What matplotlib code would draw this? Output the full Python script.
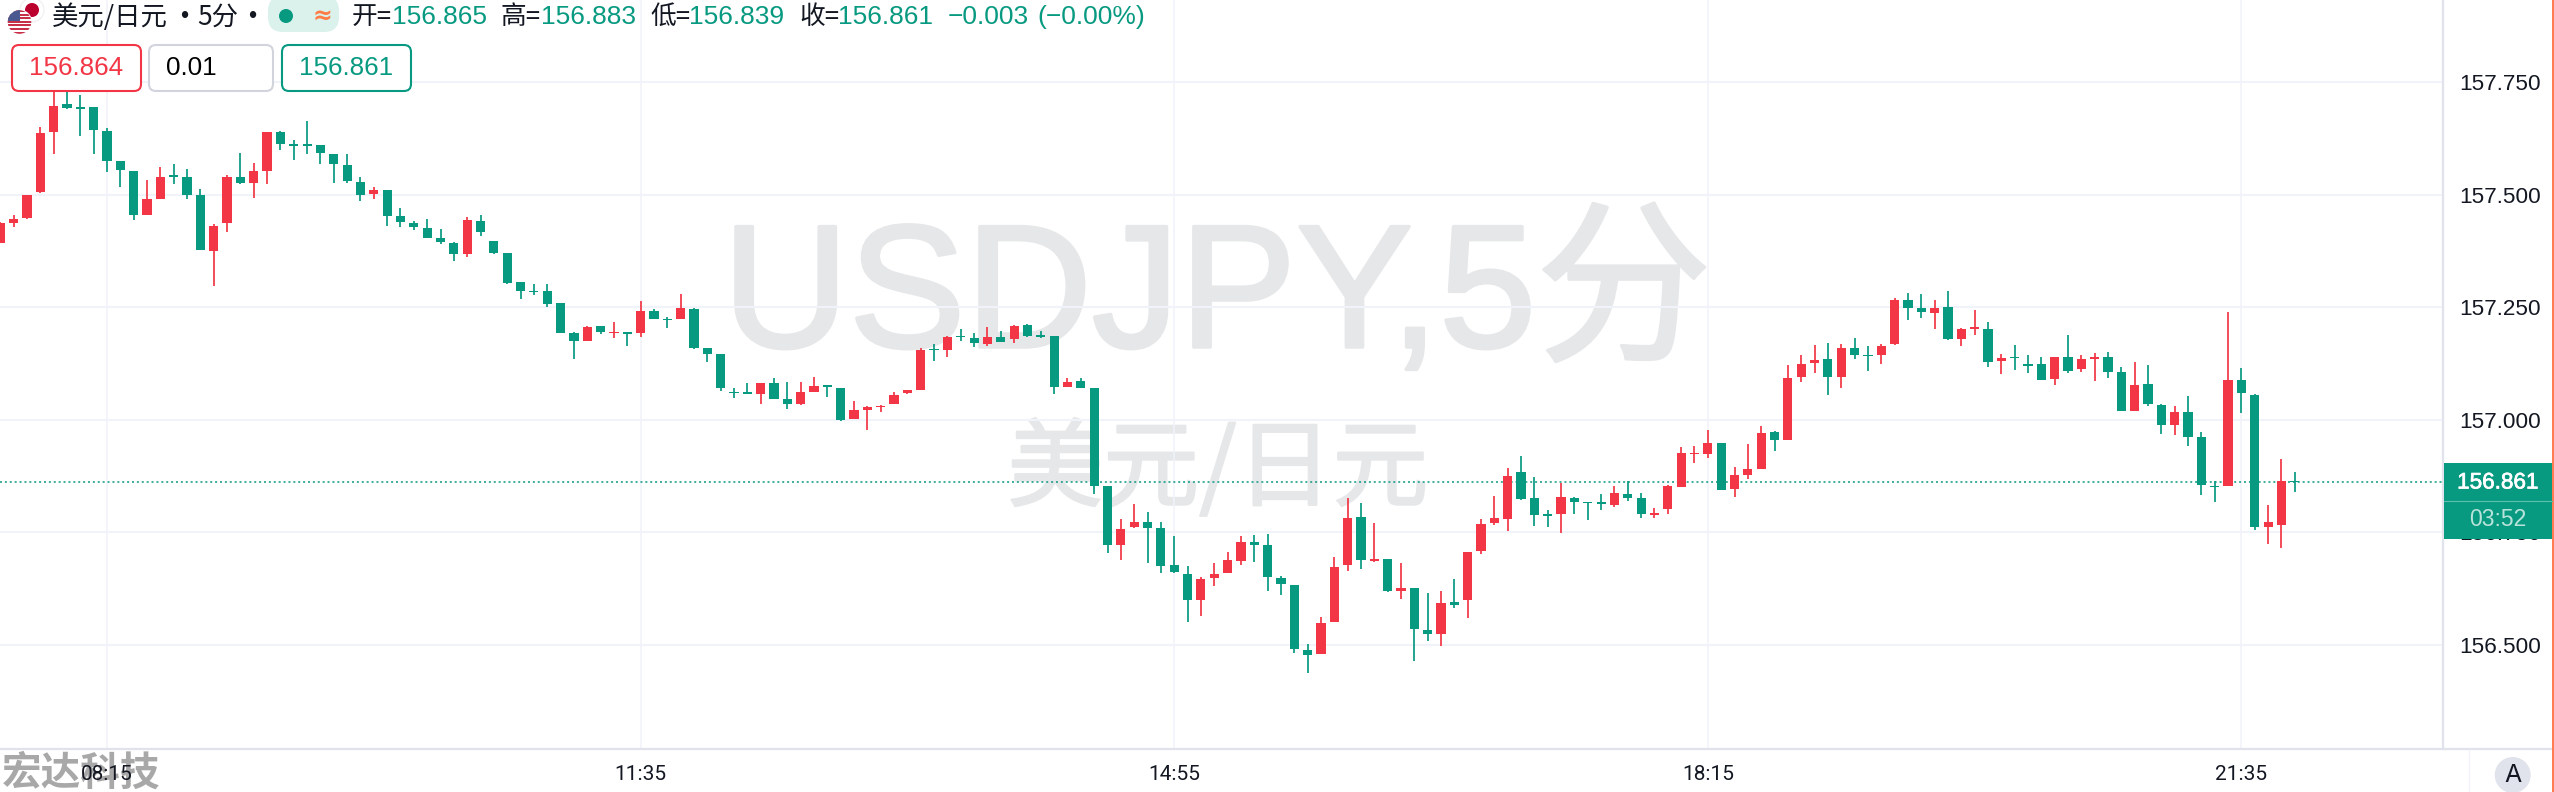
import numpy as np
import matplotlib
matplotlib.use("Agg")
import matplotlib.pyplot as plt
import matplotlib.patheffects as pe
from matplotlib.patches import Circle, FancyBboxPatch, Rectangle

# ---------- data ----------
opens = [
157.393,157.438,157.447,157.505,157.640,157.700,157.693,157.694,
157.641,157.574,157.552,157.454,157.490,157.543,157.540,157.499,157.375,157.437,
157.540,157.526,157.552,157.638,157.609,157.610,157.609,157.590,157.566,157.529,
157.501,157.510,157.452,157.436,157.426,157.404,157.393,157.367,157.441,157.398,
157.370,157.305,157.286,157.285,157.259,157.192,157.174,157.208,157.192,157.194,
157.192,157.242,157.224,157.224,157.247,157.160,157.146,157.062,157.061,157.057,
157.081,157.047,157.035,157.061,157.076,157.071,157.002,157.022,157.028,157.034,
157.059,157.067,157.158,157.155,157.185,157.181,157.169,157.184,157.179,157.210,
157.186,157.186,157.073,157.086,157.070,156.853,156.722,156.761,156.772,156.759,
156.677,156.658,156.600,156.648,156.660,156.687,156.729,156.722,156.649,156.634,
156.488,156.480,156.551,156.677,156.784,156.686,156.691,156.620,156.626,156.534,
156.524,156.595,156.601,156.708,156.770,156.780,156.884,156.826,156.790,156.791,
156.826,156.817,156.815,156.811,156.836,156.827,156.788,156.801,156.851,156.923,
156.925,156.949,156.847,156.878,156.890,156.972,156.955,157.095,157.125,157.135,
157.096,157.159,157.144,157.144,157.168,157.266,157.248,157.238,157.250,157.180,
157.202,157.202,157.130,157.140,157.123,157.123,157.090,157.140,157.112,157.135,
157.139,157.106,157.020,157.079,157.032,156.989,157.017,156.962,156.853,156.854,
157.088,157.056,156.762,156.767,156.865]
highs = [
157.440,157.455,157.500,157.649,157.747,157.743,157.721,157.694,
157.647,157.574,157.552,157.532,157.561,157.569,157.556,157.513,157.434,157.543,
157.593,157.571,157.640,157.641,157.621,157.664,157.609,157.590,157.591,157.540,
157.517,157.510,157.471,157.441,157.446,157.424,157.394,157.451,157.454,157.398,
157.370,157.305,157.301,157.302,157.259,157.194,157.209,157.209,157.218,157.194,
157.263,157.245,157.229,157.280,157.249,157.160,157.146,157.071,157.081,157.081,
157.093,157.084,157.084,157.095,157.078,157.071,157.042,157.031,157.033,157.062,
157.067,157.159,157.168,157.187,157.202,157.193,157.207,157.198,157.210,157.212,
157.198,157.186,157.093,157.093,157.070,156.853,156.779,156.812,156.796,156.774,
156.742,156.676,156.650,156.681,156.706,156.742,156.745,156.746,156.654,156.634,
156.503,156.562,156.695,156.826,156.816,156.770,156.691,156.683,156.626,156.615,
156.619,156.646,156.706,156.780,156.830,156.892,156.919,156.874,156.800,156.859,
156.828,156.817,156.835,156.852,156.863,156.837,156.805,156.856,156.940,156.941,
156.977,156.949,156.896,156.946,156.987,156.975,157.121,157.143,157.166,157.170,
157.169,157.181,157.163,157.168,157.271,157.282,157.279,157.265,157.287,157.204,
157.243,157.217,157.147,157.167,157.143,157.140,157.139,157.189,157.144,157.148,
157.151,157.117,157.128,157.121,157.036,157.031,157.052,156.973,156.864,157.240,
157.116,157.058,156.811,156.914,156.883]
lows = [
157.393,157.427,157.446,157.504,157.590,157.691,157.631,157.589,
157.550,157.516,157.443,157.454,157.490,157.523,157.491,157.376,157.297,157.418,
157.523,157.493,157.524,157.600,157.577,157.590,157.569,157.526,157.526,157.486,
157.491,157.431,157.429,157.421,157.404,157.391,157.353,157.361,157.407,157.367,
157.302,157.269,157.276,157.251,157.192,157.134,157.174,157.191,157.182,157.163,
157.183,157.224,157.204,157.224,157.158,157.128,157.064,157.048,157.058,157.036,
157.046,157.025,157.033,157.061,157.050,156.997,157.001,156.977,157.017,157.034,
157.057,157.067,157.130,157.139,157.174,157.161,157.164,157.172,157.170,157.184,
157.182,157.057,157.072,157.070,156.835,156.705,156.689,156.759,156.683,156.660,
156.660,156.550,156.565,156.632,156.659,156.678,156.684,156.620,156.611,156.483,
156.438,156.480,156.551,156.665,156.668,156.684,156.618,156.602,156.465,156.508,
156.498,156.583,156.560,156.703,156.767,156.753,156.821,156.765,156.762,156.749,
156.791,156.777,156.799,156.807,156.820,156.781,156.781,156.791,156.851,156.905,
156.915,156.844,156.828,156.868,156.890,156.930,156.955,157.085,157.104,157.056,
157.070,157.134,157.109,157.124,157.165,157.222,157.226,157.201,157.178,157.164,
157.189,157.117,157.101,157.110,157.104,157.089,157.077,157.104,157.106,157.086,
157.092,157.019,157.019,157.031,156.969,156.966,156.941,156.833,156.818,156.854,
157.015,156.756,156.724,156.716,156.839]
closes = [
157.436,157.446,157.500,157.637,157.697,157.693,157.691,157.643,
157.574,157.554,157.455,157.491,157.539,157.540,157.499,157.376,157.431,157.540,
157.526,157.552,157.640,157.612,157.608,157.608,157.592,157.569,157.530,157.500,
157.511,157.452,157.440,157.428,157.404,157.394,157.369,157.444,157.418,157.370,
157.304,157.286,157.283,157.258,157.192,157.175,157.207,157.194,157.195,157.191,
157.241,157.224,157.221,157.249,157.159,157.146,157.071,157.059,157.058,157.081,
157.047,157.036,157.061,157.076,157.073,156.999,157.022,157.029,157.031,157.056,
157.066,157.156,157.154,157.184,157.183,157.170,157.184,157.172,157.209,157.186,
157.184,157.073,157.084,157.070,156.853,156.722,156.757,156.772,156.759,156.676,
156.663,156.599,156.646,156.658,156.689,156.728,156.722,156.650,156.635,156.492,
156.478,156.548,156.674,156.783,156.688,156.692,156.620,156.627,156.536,156.525,
156.594,156.588,156.706,156.768,156.781,156.876,156.824,156.788,156.787,156.828,
156.818,156.815,156.813,156.838,156.827,156.791,156.792,156.852,156.926,156.926,
156.949,156.844,156.878,156.891,156.971,156.955,157.092,157.124,157.133,157.095,
157.160,157.144,157.141,157.164,157.265,157.248,157.240,157.248,157.179,157.201,
157.205,157.129,157.138,157.137,157.120,157.089,157.139,157.109,157.135,157.138,
157.106,157.019,157.078,157.034,156.988,157.018,156.962,156.856,156.850,157.089,
157.059,156.762,156.773,156.863,156.861]

time_tick_pos = [8, 48, 88, 128, 168]
time_tick_labels = ["08:15", "11:35", "14:55", "18:15", "21:35"]
price_ticks = [156.5, 156.75, 157.0, 157.25, 157.5, 157.75]
last_price = 156.861

# ---------- style ----------
GREEN = "#089981"
RED = "#F23645"
GRID = "#F0F3FA"
AXIS = "#E0E3EB"
INK = "#131722"
WM = "#E6E7E9"
SANS = ["Liberation Sans", "Noto Sans CJK SC", "DejaVu Sans"]
CJK = ["Noto Sans CJK SC", "DejaVu Sans"]
plt.rcParams["font.family"] = SANS

W, H = 2554, 792
fig = plt.figure(figsize=(W / 100, H / 100), dpi=100, facecolor="white")

# main price axes
ax = fig.add_axes([0, 43 / H, 2443 / W, 749 / H], zorder=1)
ax.set_xlim(-0.021, 183.11)
ax.set_ylim(156.2691, 157.932)
ax.set_axisbelow(True)
ax.set_facecolor("none")

# pixel overlay for the header, boxes and tags
ov = fig.add_axes([0, 0, 1, 1], zorder=5)
ov.set_xlim(0, W)
ov.set_ylim(H, 0)
ov.axis("off")
ov.patch.set_alpha(0)

# grid
ax.set_yticks(price_ticks)
ax.set_yticklabels([f"{p:.3f}" for p in price_ticks])
ax.set_xticks(time_tick_pos)
ax.set_xticklabels(time_tick_labels, fontfamily="Roboto")
ax.yaxis.tick_right()
ax.tick_params(axis="y", length=0, pad=11.5, labelsize=16.2, labelcolor=INK)
ax.tick_params(axis="x", length=0, pad=11.5, labelsize=15, labelcolor=INK)
ax.grid(axis="y", color=GRID, lw=1.5)
ax.grid(axis="x", color=GRID, lw=1.1)
for s in ("top", "left"):
    ax.spines[s].set_visible(False)
for s in ("right", "bottom"):
    ax.spines[s].set_color(AXIS)
    ax.spines[s].set_linewidth(1.6)

# big watermark
heavy = [pe.withStroke(linewidth=2.5, foreground=WM)]
ax.text(1217, 347, "USDJPY,5分", transform=ov.transData, fontsize=126, color=WM,
        ha="center", va="baseline", family=SANS, zorder=0.5, clip_on=False,
        path_effects=heavy)
ax.text(1218, 471, "美元/日元", transform=ov.transData, fontsize=69, color=WM,
        ha="center", va="center", family=CJK, zorder=0.5, clip_on=False,
        path_effects=[pe.withStroke(linewidth=1.5, foreground=WM)])

# candles
o = np.array(opens); h = np.array(highs); l = np.array(lows); c = np.array(closes)
x = np.arange(len(o))
colors = np.where(c >= o, RED, GREEN)
ax.axhline(last_price, color=GREEN, lw=1.1, ls=(0, (1.3, 1.9)), zorder=1.5)
ax.vlines(x, l, h, colors=colors, lw=1.25, zorder=2)
top = np.maximum(o, c)
bot = np.minimum(o, c)
ax.bar(x, np.maximum(top - bot, 0.0035), bottom=bot, width=9.2 / 13.34,
       color=colors, linewidth=0, zorder=3)

# bottom-left logo text (beneath the time labels)
fig.text(2 / W, 1 - 773.5 / H, "宏达科技", fontsize=28.5, fontweight="bold",
         color="#A8A8A8", family=CJK, ha="left", va="center", zorder=-1)

# axis decorations on the right
ov.plot([2443, 2552], [749, 749], color=AXIS, lw=1.6, solid_capstyle="butt")
ov.plot([2469, 2469], [750, 792], color=GRID, lw=1.0)
ov.add_patch(Rectangle((2551.5, 0), 2.5, H, color="#FF7B52", lw=0))
ov.add_patch(Circle((2512.7, 775), 18, color=AXIS, lw=0))
ov.text(2512.7, 775, "A", fontsize=18, color=INK, ha="center", va="center", family="Inter")

# last price tag
semi = [pe.withStroke(linewidth=0.5, foreground="white")]
ov.add_patch(Rectangle((2444, 463), 108, 76, color=GREEN, lw=0))
ov.plot([2444, 2552], [501, 501], color="#5FBFAE", lw=0.8)
ov.text(2498, 483, "156.861", fontsize=16.2, color="white", ha="center", va="center",
        path_effects=semi)
ov.text(2498, 520, "03:52", fontsize=16.5, color="#B8E3DA", ha="center", va="center")

# header icons
ov.add_patch(Circle((32, 10), 12, facecolor="white", edgecolor="#EEEEF2", lw=0.8))
ov.add_patch(Circle((32, 10), 7, color="#BC002D", lw=0))
ov.add_patch(Circle((19.5, 22), 11.8, facecolor="white", edgecolor="white", lw=1.0, zorder=3))
us_clip = Circle((19.5, 22), 11.8, transform=ov.transData)
for k in range(7):
    r = Rectangle((7, 10 + k * 3.6), 25, 1.9, color="#C8304A", lw=0, zorder=3.1)
    ov.add_patch(r)
    r.set_clip_path(us_clip)
canton = Rectangle((7, 10), 12.5, 11, color="#4A5A90", lw=0, zorder=3.2)
ov.add_patch(canton)
canton.set_clip_path(us_clip)

# header text
ov.text(52, 17, "美元/日元", fontsize=19, color=INK, ha="left", va="center", family=CJK)
ov.text(184, 17, "•", fontsize=17, color=INK, ha="center", va="center", family=SANS)
ov.text(197, 17, "5分", fontsize=19, color=INK, ha="left", va="center", family=CJK)
ov.text(252, 17, "•", fontsize=17, color=INK, ha="center", va="center", family=SANS)

ov.add_patch(FancyBboxPatch((268, -4), 71, 36, boxstyle="round,pad=0,rounding_size=15",
                            facecolor="#DAF1EC", edgecolor="none"))
ov.add_patch(Circle((286, 16), 7, color=GREEN, lw=0))
ov.text(322, 16, "≈", fontsize=17, color="#FF7A45", ha="center", va="center",
        family="DejaVu Sans", fontweight="bold")

labels = [("开", 352, "156.865", 392), ("高", 501, "156.883", 541),
          ("低", 650, "156.839", 689), ("收", 799, "156.861", 838)]
for name, xn, val, xv in labels:
    ov.text(xn, 17, name + "=", fontsize=18.5, color=INK, ha="left", va="center", family=CJK)
    ov.text(xv, 17, val, fontsize=19, color=GREEN, ha="left", va="center")
ov.text(948, 17, "−0.003", fontsize=19, color=GREEN, ha="left", va="center")
ov.text(1037, 17, "(−0.00%)", fontsize=19, color=GREEN, ha="left", va="center")

# order boxes
boxes = [(12, 129, RED, "156.864", RED, None), (149, 124, "#D1D4DC", "0.01", "#000000", 166),
         (282, 129, GREEN, "156.861", GREEN, None)]
for bx, bw, edge, txt, tc, tx in boxes:
    ov.add_patch(FancyBboxPatch((bx, 45), bw, 46, boxstyle="round,pad=0,rounding_size=7",
                                facecolor="white", edgecolor=edge, lw=1.5))
    if tx is None:
        ov.text(bx + bw / 2, 68, txt, fontsize=18.7, color=tc, ha="center", va="center")
    else:
        ov.text(tx, 68, txt, fontsize=18.7, color=tc, ha="left", va="center")

fig.savefig("out.png", dpi=100, facecolor="white")
